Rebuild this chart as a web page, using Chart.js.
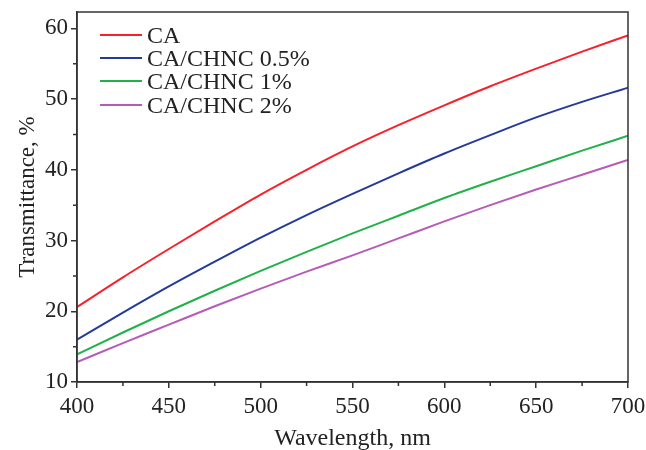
<!DOCTYPE html>
<html>
<head>
<meta charset="utf-8">
<script src="https://cdn.jsdelivr.net/npm/chart.js@4/dist/chart.umd.min.js"></script>
<style>
  html, body { margin: 0; padding: 0; background: #fff; }
  #wrap { width: 646px; height: 450px; }
</style>
</head>
<body>
<div id="wrap"><canvas id="chart" width="646" height="450"></canvas></div>
<script>
// wavelength, nm
const wavelengths = [400, 425, 450, 475, 500, 525, 550, 575, 600, 625, 650, 675, 700];

// transmittance, %
const caValues     = [20.6, 24.8, 28.8, 32.7, 36.5, 40.0, 43.3, 46.3, 49.1, 51.8, 54.3, 56.7, 59.0];
const chnc05Values = [16.0, 19.8, 23.5, 27.0, 30.4, 33.6, 36.6, 39.5, 42.3, 44.9, 47.4, 49.6, 51.6];
const chnc1Values  = [13.9, 17.0, 20.0, 22.9, 25.7, 28.4, 31.0, 33.5, 36.0, 38.3, 40.5, 42.7, 44.8];
const chnc2Values  = [12.8, 15.5, 18.1, 20.7, 23.2, 25.6, 27.9, 30.3, 32.7, 35.0, 37.2, 39.3, 41.4];

const seriesLabels = ['CA', 'CA/CHNC 0.5%', 'CA/CHNC 1%', 'CA/CHNC 2%'];
const seriesColors = ['#f5222a', '#233a9a', '#20b148', '#b65cb8'];

const xTickMinor = [425, 475, 525, 575, 625, 675];
const yTickMinor = [15, 25, 35, 45, 55];

const FONT = '"Liberation Serif", "Times New Roman", serif';
const AXIS = '#333';

function points(vals) {
    return wavelengths.map((w, i) => ({ x: w, y: vals[i] }));
}

// frame, minor ticks and the legend inside the plot
const decorPlugin = {
    id: 'decor',
    afterDraw(chart) {
        const ctx = chart.ctx;
        const ca = chart.chartArea;
        const xs = chart.scales.x, ys = chart.scales.y;
        ctx.save();
        ctx.strokeStyle = AXIS;
        ctx.lineWidth = 1.5;
        ctx.strokeRect(ca.left, ca.top, ca.right - ca.left, ca.bottom - ca.top);

        ctx.beginPath();
        xTickMinor.forEach(v => {
            const px = xs.getPixelForValue(v);
            ctx.moveTo(px, ca.bottom);
            ctx.lineTo(px, ca.bottom + 4);
        });
        yTickMinor.forEach(v => {
            const py = ys.getPixelForValue(v);
            ctx.moveTo(ca.left, py);
            ctx.lineTo(ca.left - 4, py);
        });
        ctx.stroke();

        // legend
        ctx.font = '24px ' + FONT;
        ctx.textBaseline = 'middle';
        ctx.fillStyle = '#222';
        const rowY = [35, 58, 81, 105];
        chart.data.datasets.forEach((ds, i) => {
            const y = rowY[i];
            ctx.strokeStyle = ds.borderColor;
            ctx.lineWidth = 2;
            ctx.beginPath();
            ctx.moveTo(ca.left + 23, y);
            ctx.lineTo(ca.left + 65, y);
            ctx.stroke();
            ctx.fillText(ds.label, ca.left + 70, y + 2);
        });
        ctx.restore();
    }
};

const ctx = document.getElementById('chart').getContext('2d');
const chart = new Chart(ctx, {
    type: 'line',
    data: {
        datasets: [caValues, chnc05Values, chnc1Values, chnc2Values].map((vals, i) => ({
            label: seriesLabels[i],
            data: points(vals),
            borderColor: seriesColors[i],
            backgroundColor: seriesColors[i],
            borderWidth: 2,
            pointRadius: 0,
            cubicInterpolationMode: 'monotone',
            fill: false
        }))
    },
    options: {
        responsive: false,
        animation: false,
        layout: { padding: { top: 12, right: 18, left: 0, bottom: 0 } },
        plugins: {
            legend: { display: false },
            tooltip: { enabled: false }
        },
        scales: {
            x: {
                type: 'linear',
                min: 400,
                max: 700,
                afterFit: s => {
                    s.height = 68;
                    s.paddingLeft = 0;
                    s.paddingRight = 0;
                },
                ticks: {
                    stepSize: 50,
                    color: '#222',
                    padding: 5,
                    font: { family: FONT, size: 23 }
                },
                grid: { drawOnChartArea: false, tickLength: 6, color: AXIS, lineWidth: 1.5 },
                border: { color: AXIS, width: 1.5 },
                title: {
                    display: true,
                    text: 'Wavelength, nm',
                    color: '#222',
                    font: { family: FONT, size: 24 },
                    padding: { top: 4, bottom: -3 }
                }
            },
            y: {
                type: 'linear',
                min: 10,
                max: 62.3,
                afterFit: s => {
                    s.width = 77;
                    s.paddingTop = 0;
                    s.paddingBottom = 0;
                },
                ticks: {
                    stepSize: 10,
                    includeBounds: false,
                    color: '#222',
                    padding: 3,
                    font: { family: FONT, size: 23 }
                },
                grid: { drawOnChartArea: false, tickLength: 6, color: AXIS, lineWidth: 1.5 },
                border: { color: AXIS, width: 1.5 },
                title: {
                    display: true,
                    text: 'Transmittance, %',
                    color: '#222',
                    font: { family: FONT, size: 23 },
                    padding: { top: 14, bottom: 2 }
                }
            }
        }
    },
    plugins: [decorPlugin]
});
</script>
</body>
</html>
